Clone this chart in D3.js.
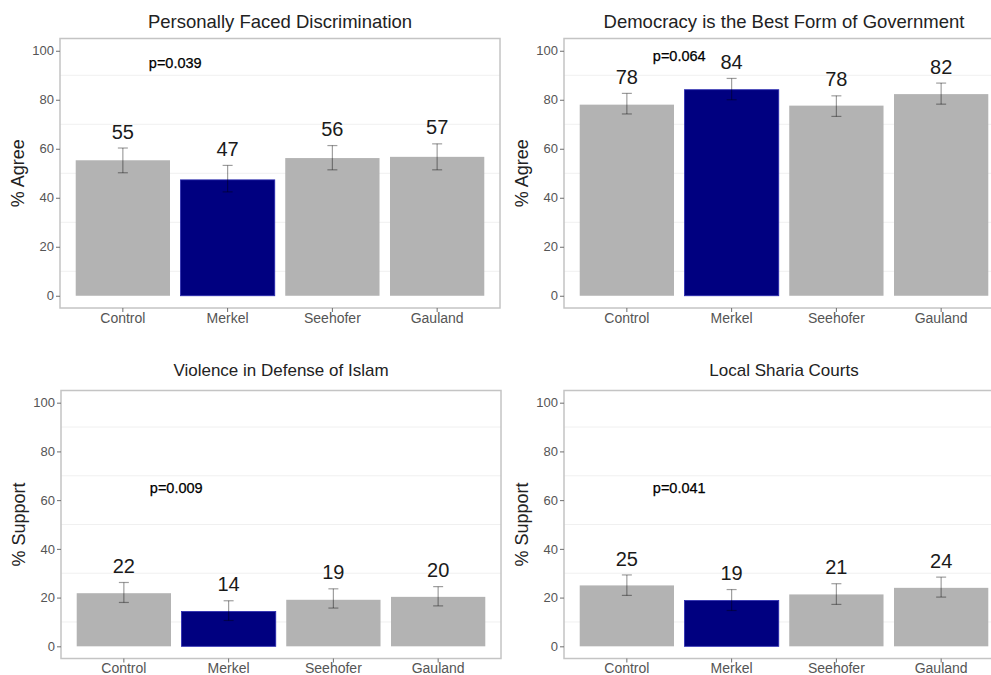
<!DOCTYPE html>
<html>
<head>
<meta charset="utf-8">
<script src="https://cdn.jsdelivr.net/npm/d3@7"></script>
<style>
  body { margin: 0; background: #fff; }
  svg { display: block; font-family: "Liberation Sans", Arial, sans-serif; }
</style>
</head>
<body>
<div id="chart"></div>
<script>
// data
var groups = ["Control", "Merkel", "Seehofer", "Gauland"];
var titles = ["Personally Faced Discrimination", "Democracy is the Best Form of Government",
              "Violence in Defense of Islam", "Local Sharia Courts"];
var yTitles = ["% Agree", "% Agree", "% Support", "% Support"];
var means = [[55.3, 47.3, 56.2, 56.7],
             [78.0, 84.1, 77.6, 82.3],
             [21.8, 14.3, 19.1, 20.3],
             [25.0, 18.8, 21.3, 24.0]];
var lower = [[50.2, 42.4, 51.4, 51.4],
             [74.2, 80.0, 73.2, 78.2],
             [18.0, 10.6, 15.7, 16.6],
             [20.9, 14.7, 17.2, 20.2]];
var upper = [[60.3, 53.2, 61.3, 62.0],
             [82.6, 88.7, 81.6, 86.8],
             [26.2, 18.7, 23.6, 24.5],
             [29.3, 23.3, 25.7, 28.4]];
var pLabels = ["p=0.039", "p=0.064", "p=0.009", "p=0.041"];
var pY = [95, 98, 65, 65];
var yTicks = [0, 20, 40, 60, 80, 100];
var minorTicks = [10, 30, 50, 70, 90];

// panel boxes (left, top, width, height)
var panels = [
  {x: 60,  y: 38.5, w: 440, h: 269.5, titleY: 21, titleSize: 18.5},
  {x: 564, y: 38.5, w: 440, h: 269.5, titleY: 21, titleSize: 18.5},
  {x: 61,  y: 390.5, w: 440, h: 268, titleY: 370, titleSize: 17},
  {x: 564, y: 390.5, w: 440, h: 268, titleY: 370, titleSize: 17}
];

var svg = d3.select("#chart").append("svg")
  .attr("width", 991)
  .attr("height", 675);

panels.forEach(function(p, i) {
  var g = svg.append("g").attr("transform", "translate(" + p.x + "," + p.y + ")");

  var x = d3.scaleBand().domain(groups).range([0, p.w]).paddingInner(0.1).paddingOuter(0.15);
  var y = d3.scaleLinear().domain([-5, 105]).range([p.h, 0]);

  // faint grid lines
  g.selectAll(".minor").data(minorTicks).enter().append("line")
    .attr("x1", 0).attr("x2", p.w)
    .attr("y1", function(d) { return y(d); })
    .attr("y2", function(d) { return y(d); })
    .attr("stroke", "#f0f0f0").attr("stroke-width", 1);

  // bars
  g.selectAll(".bar").data(groups).enter().append("rect")
    .attr("x", function(d) { return x(d); })
    .attr("y", function(d, j) { return y(means[i][j]); })
    .attr("width", x.bandwidth())
    .attr("height", function(d, j) { return y(0) - y(means[i][j]); })
    .attr("fill", function(d) { return d == "Merkel" ? "#000080" : "#b3b3b3"; })
    .attr("stroke", function(d) { return d == "Merkel" ? "#2a2ab0" : "none"; })
    .attr("stroke-width", 0.8);

  // error bars
  var cap = 5;
  var eb = g.selectAll(".eb").data(groups).enter().append("g")
    .attr("stroke", "rgba(0,0,0,0.38)").attr("stroke-width", 1.2);
  eb.append("line")
    .attr("x1", function(d) { return x(d) + x.bandwidth() / 2; })
    .attr("x2", function(d) { return x(d) + x.bandwidth() / 2; })
    .attr("y1", function(d, j) { return y(lower[i][j]); })
    .attr("y2", function(d, j) { return y(upper[i][j]); });
  eb.append("line")
    .attr("x1", function(d) { return x(d) + x.bandwidth() / 2 - cap; })
    .attr("x2", function(d) { return x(d) + x.bandwidth() / 2 + cap; })
    .attr("y1", function(d, j) { return y(lower[i][j]); })
    .attr("y2", function(d, j) { return y(lower[i][j]); });
  eb.append("line")
    .attr("x1", function(d) { return x(d) + x.bandwidth() / 2 - cap; })
    .attr("x2", function(d) { return x(d) + x.bandwidth() / 2 + cap; })
    .attr("y1", function(d, j) { return y(upper[i][j]); })
    .attr("y2", function(d, j) { return y(upper[i][j]); });

  // value labels
  g.selectAll(".lab").data(groups).enter().append("text")
    .attr("x", function(d) { return x(d) + x.bandwidth() / 2; })
    .attr("y", function(d, j) { return y(upper[i][j] + 6.8); })
    .attr("dy", "0.36em")
    .attr("text-anchor", "middle")
    .attr("font-size", 20)
    .attr("fill", "#1a1a1a")
    .text(function(d, j) { return Math.round(means[i][j]); });

  // p-value annotation, halfway between Control and Merkel
  var px = (x("Control") + x("Merkel")) / 2 + x.bandwidth() / 2;
  g.append("text")
    .attr("x", px).attr("y", y(pY[i]))
    .attr("dy", "0.36em")
    .attr("text-anchor", "middle")
    .attr("font-size", 14.5)
    .attr("fill", "#000")
    .attr("stroke", "#000").attr("stroke-width", 0.25)
    .text(pLabels[i]);

  // panel border
  g.append("rect")
    .attr("width", p.w).attr("height", p.h)
    .attr("fill", "none").attr("stroke", "#c4c4c4").attr("stroke-width", 1.5);

  // axes
  var yAxis = g.append("g").call(d3.axisLeft(y).tickValues(yTicks).tickSize(4).tickPadding(2));
  var xAxis = g.append("g").attr("transform", "translate(0," + p.h + ")")
    .call(d3.axisBottom(x).tickSize(4).tickPadding(1));
  [yAxis, xAxis].forEach(function(a) {
    a.select(".domain").remove();
    a.selectAll(".tick line").attr("stroke", "#6e6e6e");
    a.selectAll(".tick text").attr("fill", "#555").attr("font-family", "Liberation Sans, Arial, sans-serif");
  });
  yAxis.selectAll(".tick text").attr("font-size", 13);
  xAxis.selectAll(".tick text").attr("font-size", 14);

  // y title
  g.append("text")
    .attr("transform", "translate(-42," + (p.h / 2) + ") rotate(-90)")
    .attr("dy", "0.36em")
    .attr("text-anchor", "middle")
    .attr("font-size", 18)
    .attr("fill", "#222")
    .text(yTitles[i]);

  // panel title
  svg.append("text")
    .attr("x", p.x + p.w / 2).attr("y", p.titleY)
    .attr("dy", "0.36em")
    .attr("text-anchor", "middle")
    .attr("font-size", p.titleSize)
    .attr("fill", "#222")
    .text(titles[i]);
});
</script>
</body>
</html>
